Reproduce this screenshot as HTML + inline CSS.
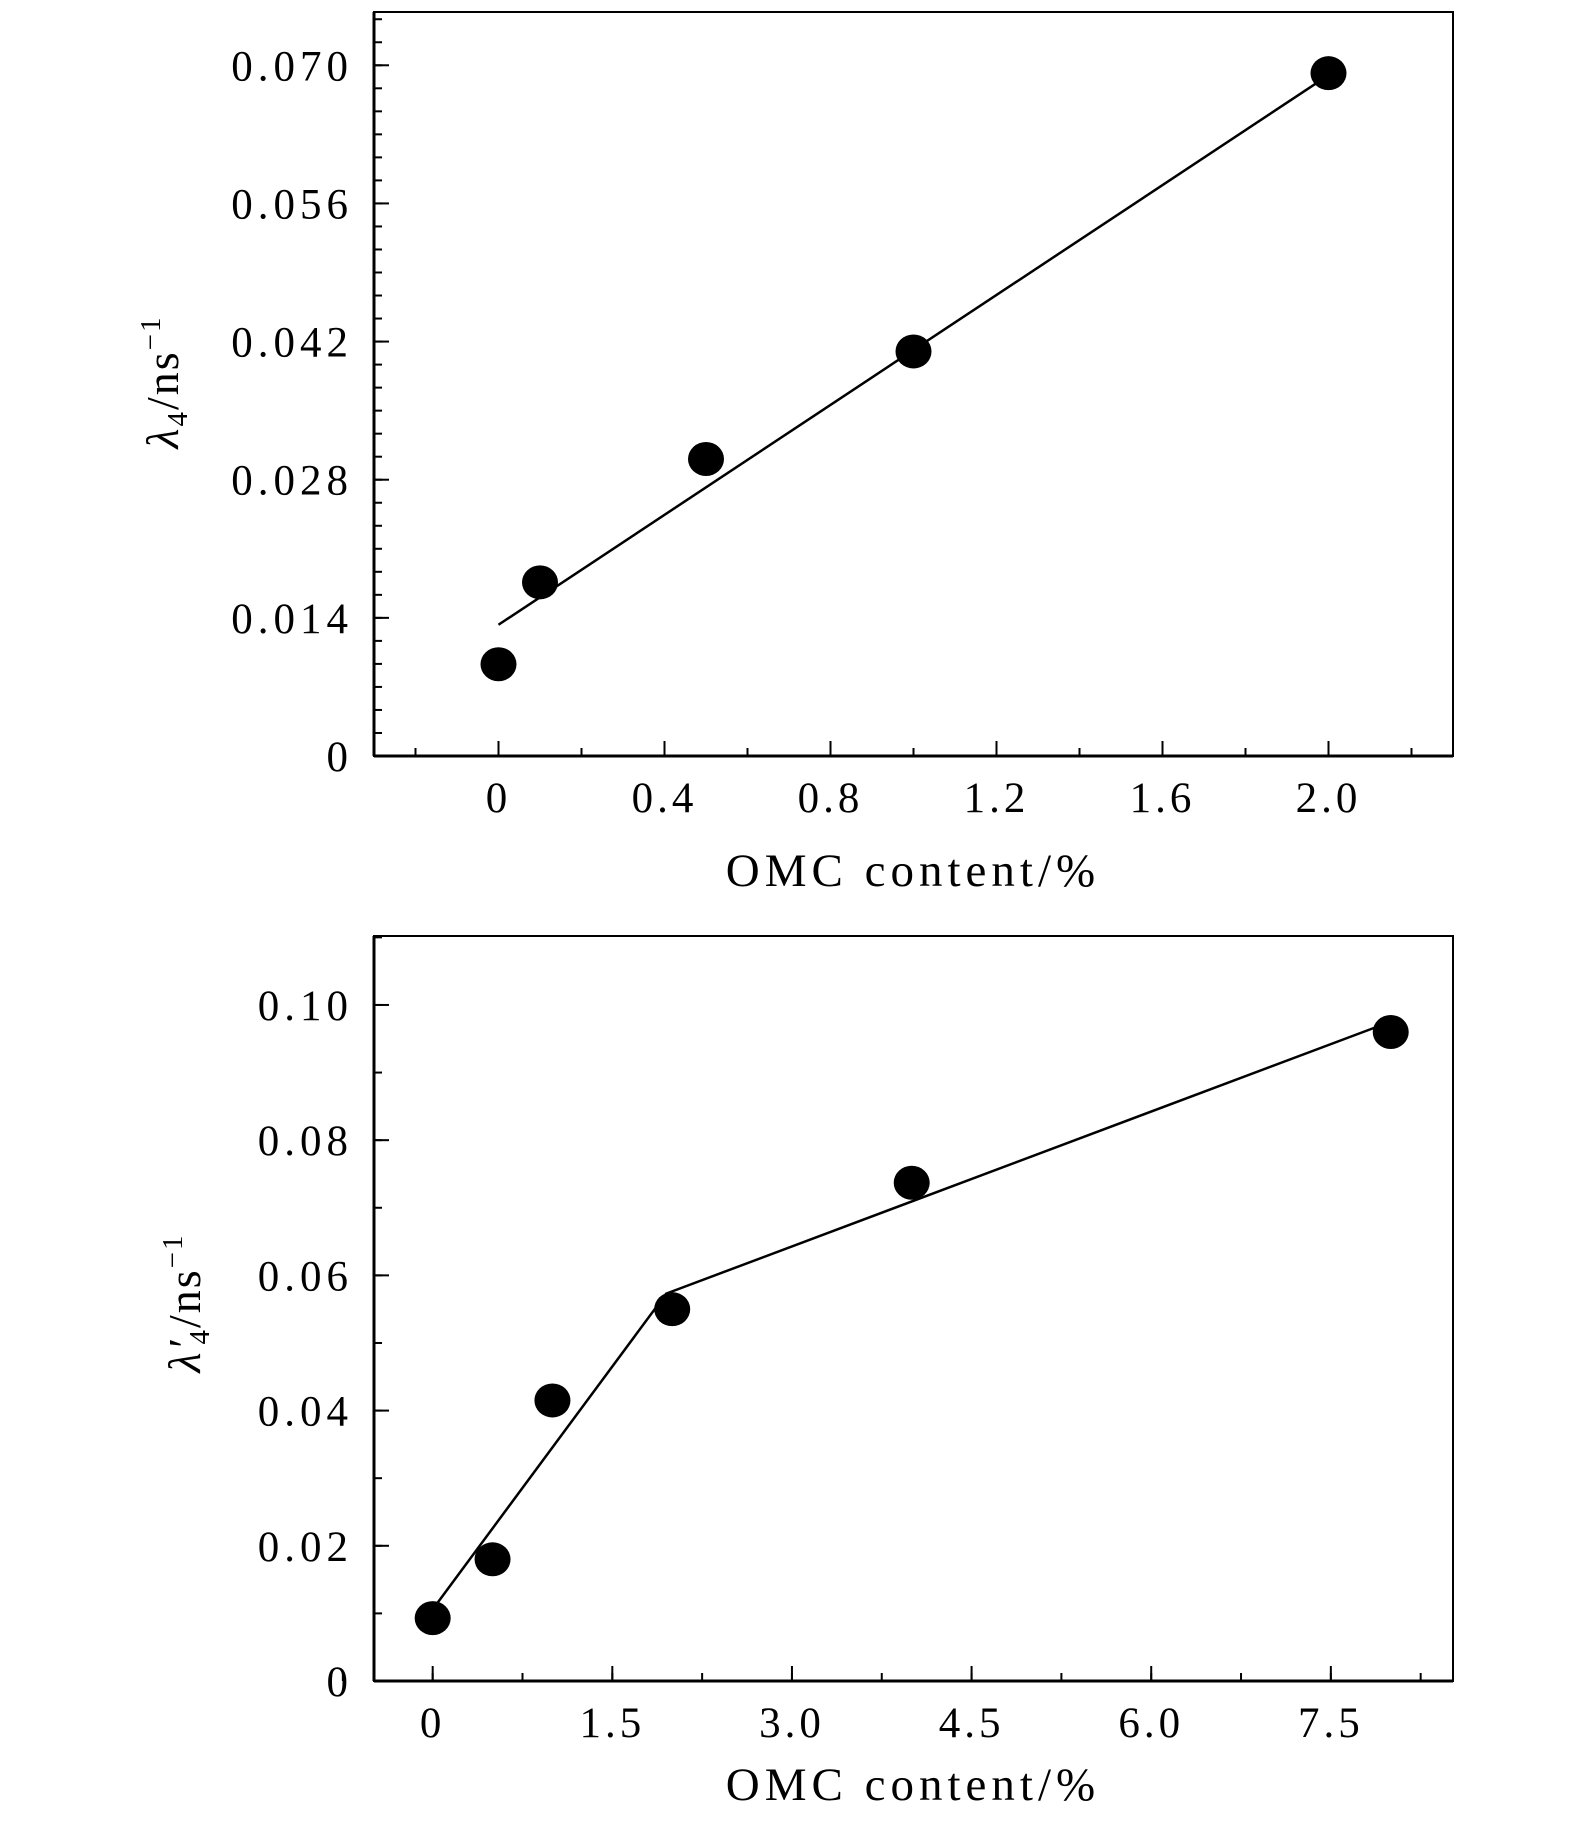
<!DOCTYPE html>
<html><head><meta charset="utf-8"><style>
body{margin:0;background:#fff}
svg text{font-family:"Liberation Serif",serif;fill:#000}
</style></head><body>
<svg width="1575" height="1821" viewBox="0 0 1575 1821">
<g id="top"></g>
<g id="bot"></g>
</svg>
<script>
const topX=[0,0.1,0.5,1.0,2.0];
const topY=[0.0093,0.0176,0.0301,0.0410,0.0692];
const topFitX=[0,2.0];
const topFitY=[0.0133,0.0690];
const topXTicks=[0,0.4,0.8,1.2,1.6,2.0];
const topXTickLabels=["0","0.4","0.8","1.2","1.6","2.0"];
const topYTicks=[0,0.014,0.028,0.042,0.056,0.070];
const topYTickLabels=["0","0.014","0.028","0.042","0.056","0.070"];
const botX=[0,0.5,1,2,4,8];
const botY=[0.0093,0.018,0.0415,0.055,0.0737,0.096];
const botFitX=[0,1.95,7.92];
const botFitY=[0.0106,0.0573,0.097];
const botXTicks=[0,1.5,3.0,4.5,6.0,7.5];
const botXTickLabels=["0","1.5","3.0","4.5","6.0","7.5"];
const botYTicks=[0,0.02,0.04,0.06,0.08,0.10];
const botYTickLabels=["0","0.02","0.04","0.06","0.08","0.10"];
const NS="http://www.w3.org/2000/svg";
function mk(p,t,a){const e=document.createElementNS(NS,t);for(const k in a)e.setAttribute(k,a[k]);p.appendChild(e);return e;}
function draw(g,o){
 const L=374,R=1453,T=o.top,B=o.bot;
 const sx=v=>L+(v-o.xmin)/(o.xmax-o.xmin)*(R-L);
 const sy=v=>B-(v-o.ymin)/(o.ymax-o.ymin)*(B-T);
 let f=mk(g,'rect',{x:L,y:T,width:R-L,height:B-T,fill:'none',stroke:'#000','stroke-width':2});
 
 
 mk(g,'line',{x1:L,y1:T,x2:L,y2:B,stroke:'#000','stroke-width':3});
 mk(g,'line',{x1:L,y1:B,x2:R,y2:B,stroke:'#000','stroke-width':3});
 for(let v=o.xmmin;v<=o.xmax+1e-9;v+=o.xminor){const x=sx(v);mk(g,'line',{x1:x,y1:B,x2:x,y2:B-8,stroke:'#000','stroke-width':2});}
 for(let v=o.ymin;v<=o.ymax+1e-9;v+=o.yminor){const y=sy(v);mk(g,'line',{x1:L,y1:y,x2:L+8,y2:y,stroke:'#000','stroke-width':2});}
 o.xt.forEach((v,i)=>{const x=sx(v);mk(g,'line',{x1:x,y1:B,x2:x,y2:B-15,stroke:'#000','stroke-width':2});
  const t=mk(g,'text',{x:x,y:B+56,'text-anchor':'middle','font-size':43,'letter-spacing':4});t.textContent=o.xl[i];
  
  });
 o.yt.forEach((v,i)=>{const y=sy(v);mk(g,'line',{x1:L,y1:y,x2:L+15,y2:y,stroke:'#000','stroke-width':2});
  const t=mk(g,'text',{x:353,y:y+15,'text-anchor':'end','font-size':43,'letter-spacing':5});t.textContent=o.yl[i];
  
  });
 const pts=o.fx.map((v,i)=>sx(v)+','+sy(o.fy[i])).join(' ');
 const pl=mk(g,'polyline',{points:pts,fill:'none',stroke:'#000','stroke-width':2.5});
 
 
 o.px.forEach((v,i)=>{const c=mk(g,'ellipse',{cx:sx(v),cy:sy(o.py[i]),rx:18,ry:17,fill:'#000'});
  
  });
 const xt=mk(g,'text',{x:913,y:o.xtitleY,'text-anchor':'middle','font-size':47,'letter-spacing':5});xt.textContent='OMC content/%';
 
 
 const yt=mk(g,'text',{transform:`translate(${o.ytx},${o.yty}) rotate(-90)`,'text-anchor':'middle','font-size':46,'letter-spacing':2});
 yt.innerHTML=o.ylab;
 
 
}
draw(document.getElementById('top'),{top:12,bot:756,xmin:-0.3,xmax:2.3,ymin:0,ymax:0.0754,xmmin:-0.2,xminor:0.2,yminor:0.014/6,
 xt:topXTicks,xl:topXTickLabels,yt:topYTicks,yl:topYTickLabels,px:topX,py:topY,fx:topFitX,fy:topFitY,xtitleY:886,ytx:178,yty:382,
 ylab:'<tspan font-style="italic">λ</tspan><tspan font-size="29" dy="9">4</tspan><tspan dy="-9">/ns</tspan><tspan font-size="29" dy="-18">−1</tspan>'});
draw(document.getElementById('bot'),{top:936,bot:1681,xmin:-0.49,xmax:8.52,ymin:0,ymax:0.1102,xmmin:-0.75,xminor:0.75,yminor:0.01,
 xt:botXTicks,xl:botXTickLabels,yt:botYTicks,yl:botYTickLabels,px:botX,py:botY,fx:botFitX,fy:botFitY,xtitleY:1800,ytx:200,yty:1303,
 ylab:'<tspan font-style="italic">λ′</tspan><tspan font-size="29" dy="9" dx="-6">4</tspan><tspan dy="-9">/ns</tspan><tspan font-size="29" dy="-18">−1</tspan>'});
</script>
</body></html>
